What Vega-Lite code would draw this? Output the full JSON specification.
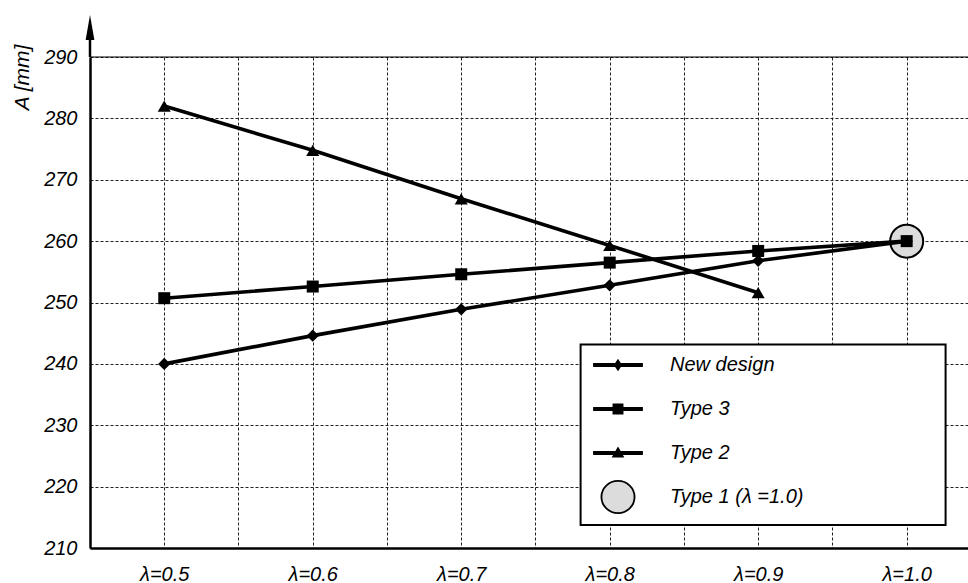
{
  "$schema": "https://vega.github.io/schema/vega-lite/v6.json",
  "width": 878,
  "height": 491,
  "autosize": {"type": "none"},
  "padding": {"left": 90, "top": 57, "right": 0, "bottom": 35},
  "background": "white",
  "config": {"view": {"stroke": null}, "font": "Liberation Sans"},
  "data": {
    "values": [
      {"series": "New design", "lambda": 0.5, "A": 240.0},
      {"series": "New design", "lambda": 0.6, "A": 244.6},
      {"series": "New design", "lambda": 0.7, "A": 248.9},
      {"series": "New design", "lambda": 0.8, "A": 252.8},
      {"series": "New design", "lambda": 0.9, "A": 256.8},
      {"series": "New design", "lambda": 1.0, "A": 260.0},
      {"series": "Type 3", "lambda": 0.5, "A": 250.7},
      {"series": "Type 3", "lambda": 0.6, "A": 252.6},
      {"series": "Type 3", "lambda": 0.7, "A": 254.6},
      {"series": "Type 3", "lambda": 0.8, "A": 256.5},
      {"series": "Type 3", "lambda": 0.9, "A": 258.4},
      {"series": "Type 3", "lambda": 1.0, "A": 260.0},
      {"series": "Type 2", "lambda": 0.5, "A": 282.0},
      {"series": "Type 2", "lambda": 0.6, "A": 274.8},
      {"series": "Type 2", "lambda": 0.7, "A": 266.9},
      {"series": "Type 2", "lambda": 0.8, "A": 259.3},
      {"series": "Type 2", "lambda": 0.9, "A": 251.6},
      {"series": "Type 1 (λ =1.0)", "lambda": 1.0, "A": 260.0}
    ]
  },
  "layer": [
    {
      "data": {"values": [{}]},
      "mark": {"type": "rule", "color": "black", "strokeWidth": 1.2},
      "encoding": {"y": {"datum": 290, "type": "quantitative"}}
    },
    {
      "data": {"values": [{}]},
      "mark": {"type": "rule", "color": "black", "strokeWidth": 2.5},
      "encoding": {
        "x": {"datum": 0.45, "type": "quantitative"},
        "y": {"datum": 290, "type": "quantitative"},
        "y2": {"datum": 294.5}
      }
    },
    {
      "data": {"values": [{}]},
      "mark": {"type": "point", "filled": true, "opacity": 1, "color": "black", "shape": "M0,-1L0.35,1H-0.35Z", "size": 625},
      "encoding": {
        "x": {"datum": 0.45, "type": "quantitative"},
        "y": {"datum": 294.8, "type": "quantitative"}
      }
    },
    {
      "data": {"values": [{}]},
      "mark": {"type": "rect", "fill": "white", "stroke": "black", "strokeWidth": 2},
      "encoding": {
        "x": {"datum": 0.7804, "type": "quantitative"},
        "x2": {"datum": 1.0262},
        "y": {"datum": 243.17, "type": "quantitative"},
        "y2": {"datum": 213.74}
      }
    },
    {
      "transform": [{"filter": "datum.series == 'Type 1 (λ =1.0)'"}],
      "mark": {"type": "point", "filled": true, "opacity": 1, "fill": "#dcdcdc", "stroke": "black", "strokeWidth": 2, "shape": "circle", "size": 1089},
      "encoding": {
        "x": {"field": "lambda", "type": "quantitative"},
        "y": {"field": "A", "type": "quantitative"}
      }
    },
    {
      "transform": [{"filter": "datum.series != 'Type 1 (λ =1.0)'"}],
      "mark": {"type": "line", "color": "black", "strokeWidth": 3.6},
      "encoding": {
        "x": {
          "field": "lambda",
          "type": "quantitative",
          "scale": {"domain": [0.45, 1.0413], "nice": false, "zero": false},
          "axis": {
            "values": [0.45, 0.5, 0.55, 0.6, 0.65, 0.7, 0.75, 0.8, 0.85, 0.9, 0.95, 1.0],
            "labelExpr": "round(datum.value * 100) % 10 == 0 ? 'λ=' + format(datum.value, '.1f') : ''",
            "title": null,
            "grid": true,
            "gridColor": "#222222",
            "gridDash": [3, 2],
            "gridWidth": 1,
            "gridOpacity": 1,
            "ticks": false,
            "domainColor": "black",
            "domainWidth": 2.5,
            "labelFont": "Liberation Sans",
            "labelFontStyle": "italic",
            "labelFontSize": 20,
            "labelColor": "black",
            "labelPadding": 16,
            "labelOverlap": false,
            "labelFlush": false
          }
        },
        "y": {
          "field": "A",
          "type": "quantitative",
          "scale": {"domain": [210, 290], "nice": false, "zero": false},
          "axis": {
            "values": [210, 220, 230, 240, 250, 260, 270, 280, 290],
            "title": "A [mm]",
            "titleFont": "Liberation Sans",
            "titleFontStyle": "italic",
            "titleFontWeight": "normal",
            "titleFontSize": 21,
            "titleColor": "black",
            "titleAngle": 270,
            "titleAlign": "center",
            "titleBaseline": "middle",
            "titleX": -68,
            "titleY": 20,
            "grid": true,
            "gridColor": "#222222",
            "gridDash": [3, 2],
            "gridWidth": 1,
            "gridOpacity": 1,
            "ticks": false,
            "domainColor": "black",
            "domainWidth": 2.5,
            "labelFont": "Liberation Sans",
            "labelFontStyle": "italic",
            "labelFontSize": 20,
            "labelColor": "black",
            "labelPadding": 13,
            "labelFlush": false
          }
        },
        "detail": {"field": "series", "type": "nominal"}
      }
    },
    {
      "transform": [{"filter": "datum.series == 'New design'"}],
      "mark": {"type": "point", "filled": true, "opacity": 1, "color": "black", "shape": "diamond", "size": 150},
      "encoding": {
        "x": {"field": "lambda", "type": "quantitative"},
        "y": {"field": "A", "type": "quantitative"}
      }
    },
    {
      "transform": [{"filter": "datum.series == 'Type 3'"}],
      "mark": {"type": "point", "filled": true, "opacity": 1, "color": "black", "shape": "square", "size": 144},
      "encoding": {
        "x": {"field": "lambda", "type": "quantitative"},
        "y": {"field": "A", "type": "quantitative"}
      }
    },
    {
      "transform": [{"filter": "datum.series == 'Type 2'"}],
      "mark": {"type": "point", "filled": true, "opacity": 1, "color": "black", "shape": "triangle-up", "size": 170},
      "encoding": {
        "x": {"field": "lambda", "type": "quantitative"},
        "y": {"field": "A", "type": "quantitative"}
      }
    },
    {
      "transform": [{"filter": "false"}],
      "mark": {"type": "point", "filled": true, "opacity": 1, "stroke": "black", "strokeWidth": 1.8},
      "encoding": {
        "x": {"field": "lambda", "type": "quantitative"},
        "y": {"field": "A", "type": "quantitative"},
        "shape": {
          "field": "series",
          "type": "nominal",
          "scale": {
            "domain": ["New design", "Type 3", "Type 2", "Type 1 (λ =1.0)"],
            "range": [
              "M-1,-0.05H1V0.05H-1ZM0,-0.19L0.13,0L0,0.19L-0.13,0Z",
              "M-1,-0.05H1V0.05H-1ZM-0.19,-0.19H0.19V0.19H-0.19Z",
              "M-1,-0.05H1V0.05H-1ZM0,-0.2L0.2,0.15H-0.2Z",
              "M-0.69,0A0.69,0.67 0 1,1 0.69,0A0.69,0.67 0 1,1 -0.69,0Z"
            ]
          },
          "legend": {
            "orient": "none",
            "legendX": 503,
            "legendY": 283,
            "title": null,
            "padding": 0,
            "symbolSize": 2304,
            "symbolStrokeColor": "black",
            "symbolStrokeWidth": 1.8,
            "symbolOpacity": 1,
            "labelFont": "Liberation Sans",
            "labelFontStyle": "italic",
            "labelFontSize": 20,
            "labelColor": "black",
            "labelOffset": 27,
            "labelLimit": 400,
            "rowPadding": 9,
            "encode": {
              "symbols": {
                "update": {
                  "stroke": {"value": "black"},
                  "strokeWidth": {"value": 1.8},
                  "opacity": {"value": 1}
                }
              }
            }
          }
        },
        "color": {
          "field": "series",
          "type": "nominal",
          "scale": {
            "domain": ["New design", "Type 3", "Type 2", "Type 1 (λ =1.0)"],
            "range": ["black", "black", "black", "#dcdcdc"]
          },
          "legend": {
            "orient": "none",
            "legendX": 503,
            "legendY": 283,
            "title": null,
            "padding": 0,
            "symbolSize": 2304,
            "symbolStrokeColor": "black",
            "symbolStrokeWidth": 1.8,
            "symbolOpacity": 1,
            "labelFont": "Liberation Sans",
            "labelFontStyle": "italic",
            "labelFontSize": 20,
            "labelColor": "black",
            "labelOffset": 27,
            "labelLimit": 400,
            "rowPadding": 9,
            "encode": {
              "symbols": {
                "update": {
                  "stroke": {"value": "black"},
                  "strokeWidth": {"value": 1.8},
                  "opacity": {"value": 1}
                }
              }
            }
          }
        }
      }
    }
  ]
}
